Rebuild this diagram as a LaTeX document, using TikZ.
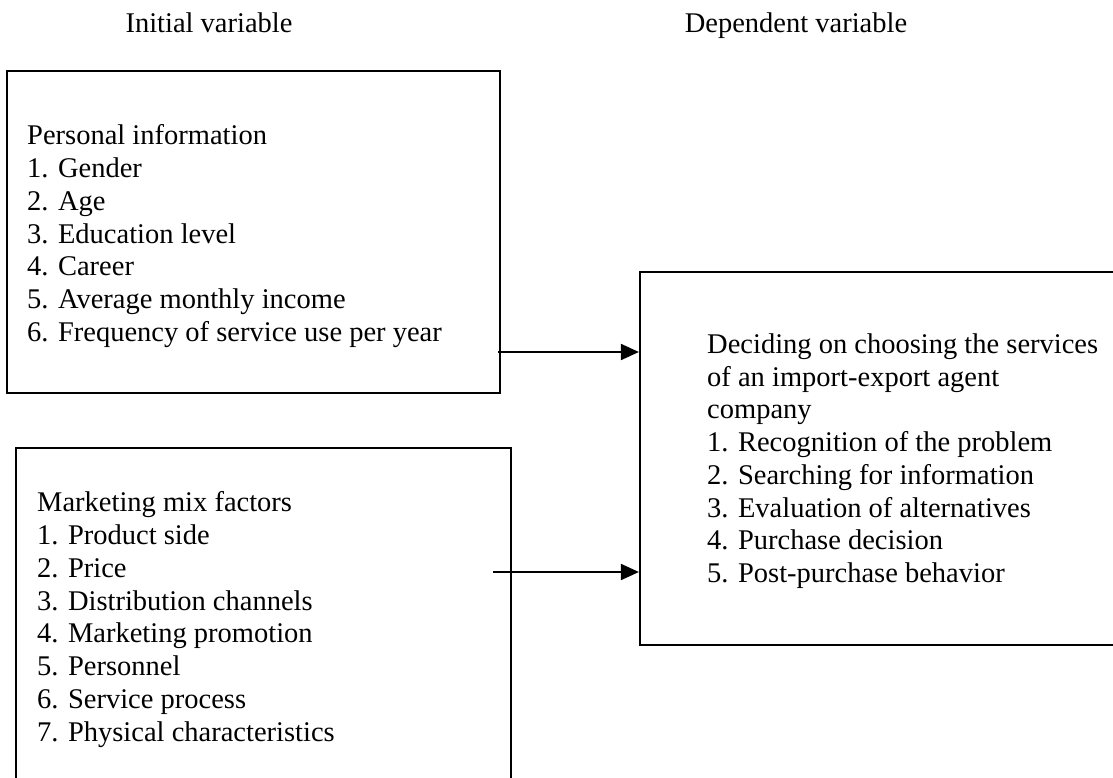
\documentclass[tikz,border=0pt]{standalone}
\usepackage{fontspec}
\setmainfont{Liberation Serif}
\usetikzlibrary{arrows.meta}
\begin{document}
\begin{tikzpicture}[x=1pt,y=-1pt,
  frame/.style={draw=black,line width=2.2pt,inner sep=0pt,rectangle},
  txt/.style={inner sep=0pt,align=left,anchor=north west,
    font=\fontsize{28.5pt}{32.75pt}\selectfont},
  head/.style={inner sep=0pt,anchor=base,font=\fontsize{28.5pt}{32.75pt}\selectfont},
  arr/.style={draw=black,line width=1.9pt,-{Triangle[length=18pt,width=16pt]}}]
\useasboundingbox (0,0) rectangle (1113,778);
\clip (0,0) rectangle (1113,778);
\node[head] (h1) at (209,33) {Initial variable};
\node[head] (h2) at (796,33) {Dependent variable};
\node[frame,minimum width=493pt,minimum height=322pt] (b1) at (253.5,232) {};
\node[frame,minimum width=495pt,minimum height=372pt] (b2) at (263.5,634) {};
\node[frame,minimum width=490pt,minimum height=373pt] (b3) at (885,458.5) {};
\node[txt] (t1) at (27,124.5) {Personal information\\1. Gender\\2. Age\\3. Education level\\4. Career\\5. Average monthly income\\6. Frequency of service use per year};
\node[txt] (t2) at (37,491.5) {Marketing mix factors\\1. Product side\\2. Price\\3. Distribution channels\\4. Marketing promotion\\5. Personnel\\6. Service process\\7. Physical characteristics};
\node[txt] (t3) at (707,333.5) {Deciding on choosing the services\\of an import-export agent\\company\\1. Recognition of the problem\\2. Searching for information\\3. Evaluation of alternatives\\4. Purchase decision\\5. Post-purchase behavior};
\coordinate (s1) at (498,352);
\coordinate (s2) at (493,572);
\draw[arr] (s1) -- (s1 -| b3.west);
\draw[arr] (s2) -- (s2 -| b3.west);
\end{tikzpicture}
\end{document}
